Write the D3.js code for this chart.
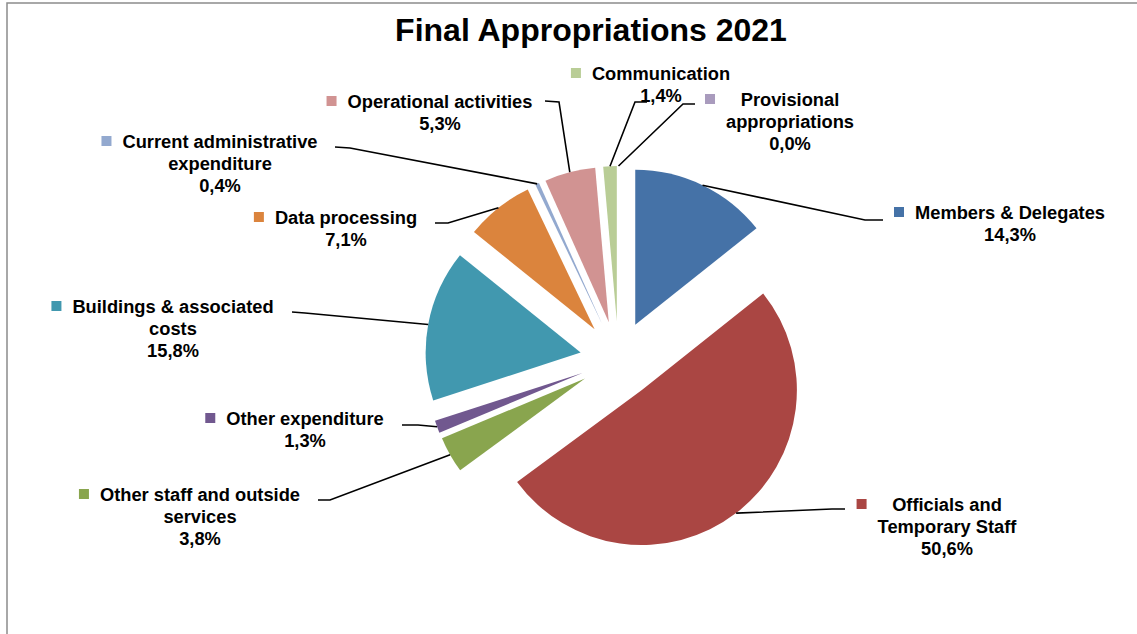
<!DOCTYPE html>
<html>
<head>
<meta charset="utf-8">
<script src="https://cdn.jsdelivr.net/npm/d3@7"></script>
<style>
  html, body { margin: 0; padding: 0; background: #fff; }
  svg { display: block; }
  text { font-family: "Liberation Sans", Arial, sans-serif; font-weight: bold; fill: #000; }
</style>
</head>
<body>
<svg id="chart" width="1137" height="634"></svg>
<script>
// Budget categories, in the order they run clockwise from 12 o'clock
const categories = [
  "Members & Delegates",
  "Officials and Temporary Staff",
  "Other staff and outside services",
  "Other expenditure",
  "Buildings & associated costs",
  "Data processing",
  "Current administrative expenditure",
  "Operational activities",
  "Communication",
  "Provisional appropriations"
];

// Share of the final appropriations, in percent
const shares = [14.3, 50.6, 3.8, 1.3, 15.8, 7.1, 0.4, 5.3, 1.4, 0.0];

// How each category name wraps inside its label
const labelLines = [
  ["Members & Delegates"],
  ["Officials and", "Temporary Staff"],
  ["Other staff and outside", "services"],
  ["Other expenditure"],
  ["Buildings & associated", "costs"],
  ["Data processing"],
  ["Current administrative", "expenditure"],
  ["Operational activities"],
  ["Communication"],
  ["Provisional", "appropriations"]
];

const colors = ["#4572A7", "#AA4643", "#89A54E", "#71588F", "#4198AF",
                "#DB843D", "#93A9CF", "#D19392", "#B9CD96", "#A99BBD"];

// Label placement: text centre x, first line centre y, and the leader-line bend points
const labelLayout = [
  { cx: 1010, y: 212, path: [[865, 220], [883, 220]] },
  { cx: 947,  y: 504, path: [[832, 509], [845, 509]] },
  { cx: 200,  y: 494, path: [[330, 500], [318, 500]] },
  { cx: 305,  y: 418, path: [[418, 425], [402, 425]] },
  { cx: 173,  y: 306, path: [[305, 313], [292, 312]] },
  { cx: 346,  y: 217, path: [[448, 223], [435, 223]] },
  { cx: 220,  y: 141, path: [[350, 148], [335, 147]] },
  { cx: 440,  y: 101, path: [[559, 102], [545, 101]] },
  { cx: 661,  y: 73,  path: [[635, 102], [647, 102]] },
  { cx: 790,  y: 99,  path: [[683, 104], [695, 104]] }
];

const svg = d3.select("#chart");
const W = 1137, H = 634;

// chart-area frame
svg.append("rect")
  .attr("x", 7).attr("y", 3)
  .attr("width", W + 20).attr("height", H + 20)
  .attr("fill", "none")
  .attr("stroke", "#8c8c8c")
  .attr("stroke-width", 1.5);

svg.append("text")
  .attr("x", 591).attr("y", 41)
  .attr("text-anchor", "middle")
  .style("font-size", "32px")
  .text("Final Appropriations 2021");

const cx = 618.5, cy = 359.5;
const radius = 155;
const explode = 38.5;

const pie = d3.pie().sort(null).value(d => d.value).startAngle(0).endAngle(2 * Math.PI);
const data = categories.map((c, i) => ({ name: c, value: shares[i], i }));
const arcs = pie(data);

const arc = d3.arc().innerRadius(0).outerRadius(radius);
const rimArc = d3.arc().innerRadius(radius).outerRadius(radius);

function offset(a) {
  const m = (a.startAngle + a.endAngle) / 2;
  return [explode * Math.sin(m), -explode * Math.cos(m)];
}

const g = svg.append("g").attr("transform", `translate(${cx},${cy})`);

g.selectAll("path.slice")
  .data(arcs)
  .join("path")
  .attr("class", "slice")
  .attr("transform", d => { const o = offset(d); return `translate(${o[0]},${o[1]})`; })
  .attr("d", arc)
  .attr("fill", d => colors[d.data.i]);

// leader lines from each slice rim to its label
const line = d3.line();
arcs.forEach(a => {
  const o = offset(a);
  const c = rimArc.centroid(a);
  const start = [cx + o[0] + c[0], cy + o[1] + c[1]];
  const pts = [start].concat(labelLayout[a.data.i].path);
  svg.append("path")
    .attr("d", line(pts))
    .attr("fill", "none")
    .attr("stroke", "#000")
    .attr("stroke-width", 1.6);
});

// labels: category name lines plus the percentage, with a colour key
// placed to the left of the widest line of the block
const fmt = v => d3.format(".1f")(v).replace(".", ",") + "%";
const lineH = 22;
arcs.forEach(a => {
  const i = a.data.i;
  const L = labelLayout[i];
  const lines = labelLines[i].concat([fmt(shares[i])]);
  const texts = lines.map((t, k) =>
    svg.append("text")
      .attr("x", L.cx)
      .attr("y", L.y + k * lineH + 6.5)
      .attr("text-anchor", "middle")
      .style("font-size", "18.3px")
      .text(t));
  const w = d3.max(texts, t => t.node().getComputedTextLength());
  svg.append("rect")
    .attr("x", L.cx - w / 2 - 21)
    .attr("y", L.y - 5)
    .attr("width", 10).attr("height", 10)
    .attr("fill", colors[i]);
});
</script>
</body>
</html>
